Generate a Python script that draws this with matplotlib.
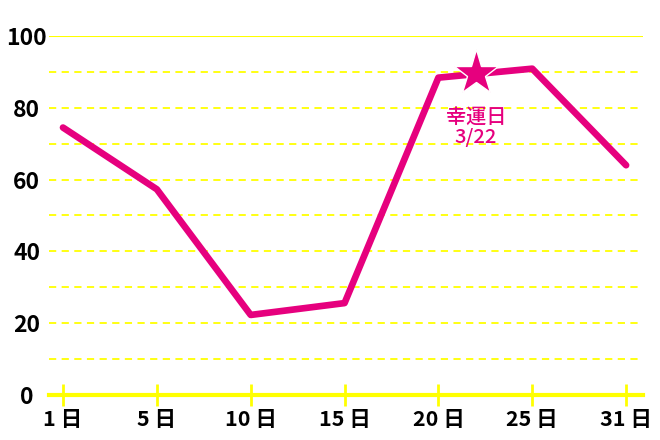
import numpy as np
import matplotlib
matplotlib.use("Agg")
import matplotlib.pyplot as plt

plt.rcParams['font.family'] = ['Noto Sans CJK JP', 'DejaVu Sans']
plt.rcParams['font.weight'] = 'bold'

# datos
dias = [1, 5, 10, 15, 20, 25, 31]
etiquetas = ["1 日", "5 日", "10 日", "15 日", "20 日", "25 日", "31 日"]
valores = [74.5, 57.3, 22.3, 25.6, 88.4, 90.9, 64.0]
dia_suerte = 22
valor_suerte = 89.6
texto_suerte = "幸運日\n3/22"

rosa = "#e6007e"
amarillo = "#ffff00"
pos = np.arange(len(dias))

fig = plt.figure(figsize=(6.6, 4.4), dpi=100)
ax = fig.add_axes([49/660, 1-395/440, (643-49)/660, (395-36)/440])
ax.set_xlim(-0.149, 6.18)
ax.set_ylim(0, 100)

# lineas guia
for v in range(10, 100, 10):
    ax.axhline(v, color=amarillo, lw=1.3, ls=(0, (4, 3)), zorder=1)
ax.axhline(100, color=amarillo, lw=1.5, zorder=1)

ax.plot(pos, valores, color=rosa, lw=4.8, solid_joinstyle='round',
        solid_capstyle='round', zorder=3)

# estrella
xs = np.interp(dia_suerte, dias, pos)
ax.plot(xs, valor_suerte, marker='*', ms=34, color=rosa, mec='white', mew=1,
        zorder=4, clip_on=False)
ax.text(xs, valor_suerte - 15, texto_suerte, color=rosa, fontsize=14.5,
        fontweight='medium', ha='center', va='center', linespacing=1.05,
        zorder=4)

for s in ['top', 'right', 'left']:
    ax.spines[s].set_visible(False)
ax.spines['bottom'].set_color(amarillo)
ax.spines['bottom'].set_linewidth(3)

ax.set_xticks(pos, etiquetas)
ax.tick_params(axis='x', direction='inout', length=16, width=2, color=amarillo,
               labelsize=15.5, pad=2)
ax.set_yticks(range(0, 101, 20))
ax.tick_params(axis='y', length=0, labelsize=16.5, pad=16)
for t in ax.get_yticklabels():
    t.set_horizontalalignment('center')

plt.savefig("out.png", dpi=100)
